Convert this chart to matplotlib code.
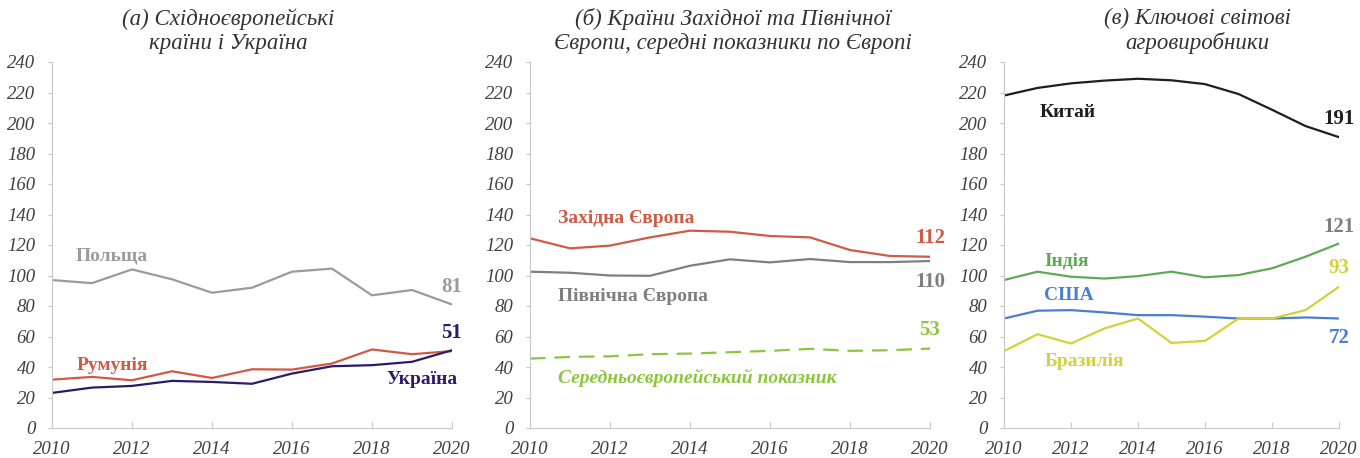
import matplotlib
matplotlib.use("Agg")
import matplotlib.pyplot as plt

plt.rcParams["font.family"] = ["Liberation Serif", "DejaVu Serif"]
plt.rcParams["font.style"] = "italic"

years = list(range(2010, 2021))
x_ticks = list(range(2010, 2021, 2))
y_ticks = list(range(0, 241, 20))

# (а) Східноєвропейські країни і Україна
poland = [97, 95, 104, 97.5, 88.7, 92, 102.5, 104.5, 87, 90.5, 81]
romania = [31.7, 33.5, 31.3, 37.2, 32.8, 38.5, 38.3, 42.3, 51.5, 48.4, 50.4]
ukraine = [23, 26.5, 27.6, 30.9, 30.2, 29, 35.7, 40.5, 41.2, 43.4, 51]

# (б) Західна / Північна Європа, середній по Європі
west_eu = [124.4, 117.8, 119.6, 125, 129.4, 128.7, 125.9, 125, 116.7, 112.8, 112.3]
north_eu = [102.5, 101.8, 100, 99.8, 106.4, 110.6, 108.6, 110.8, 108.8, 108.8, 109.5]
eu_avg = [45.5, 46.6, 47, 48.4, 48.8, 49.7, 50.6, 51.9, 50.6, 51, 52.1]

# (в) Ключові світові агровиробники
china = [218, 223, 226, 227.8, 229, 228, 225.5, 219, 208.7, 198, 190.7]
india = [97, 102.5, 99.2, 98, 99.6, 102.5, 98.8, 100.3, 104.7, 112.3, 121]
usa = [71.8, 76.9, 77.3, 75.8, 74, 74, 73, 71.8, 71.8, 72.5, 71.8]
brazil = [50.4, 61.5, 55.4, 65.3, 71.8, 55.8, 57.1, 71.8, 71.8, 77.3, 92.6]

C_GRAY = "#9b9b9b"
C_RED = "#cf5a45"
C_NAVY = "#2c1a6b"
C_DGRAY = "#7f7f7f"
C_LGREEN = "#8cc63e"
C_BLACK = "#1e1e1e"
C_GREEN = "#5eab57"
C_BLUE = "#4a7fcf"
C_YELLOW = "#d2d23a"

fig = plt.figure(figsize=(13.6, 4.58), dpi=100)

ax_a = fig.add_axes([52 / 1360, 1 - 428 / 458, 400 / 1360, 366 / 458])
ax_b = fig.add_axes([530 / 1360, 1 - 428 / 458, 400 / 1360, 366 / 458])
ax_c = fig.add_axes([1004 / 1360, 1 - 428 / 458, 335 / 1360, 366 / 458])

for ax in (ax_a, ax_b, ax_c):
    ax.set_xlim(2010, 2020)
    ax.set_ylim(0, 240)
    for s in ("top", "right"):
        ax.spines[s].set_visible(False)
    for s in ("left", "bottom"):
        ax.spines[s].set_color("#c8c8c8")
        ax.spines[s].set_linewidth(0.8)
    ax.tick_params(axis="y", direction="out", length=3, color="#c8c8c8",
                   labelsize=13.5, labelcolor="#404040", pad=9)
    ax.tick_params(axis="x", direction="in", length=4, color="#c8c8c8",
                   labelsize=13.5, labelcolor="#404040", pad=9)
    ax.set_xticks(x_ticks, [str(t) for t in x_ticks], fontstyle="italic")
    ax.set_yticks(y_ticks, [str(t) for t in y_ticks], fontstyle="italic")

lw = 1.6
bold = dict(fontweight="bold", fontsize=14, fontstyle="normal")
num = dict(fontweight="bold", fontsize=15, fontstyle="normal", ha="center", va="center")

# panel (а)
ax_a.plot(years, poland, color=C_GRAY, lw=lw)
ax_a.plot(years, romania, color=C_RED, lw=lw)
ax_a.plot(years, ukraine, color=C_NAVY, lw=lw)
ax_a.text(2011.5, 112.8, "Польща", color=C_GRAY, ha="center", va="center", **bold)
ax_a.text(2011.5, 41.3, "Румунія", color=C_RED, ha="center", va="center", **bold)
ax_a.text(2019.25, 31.5, "Україна", color=C_NAVY, ha="center", va="center", **bold)
ax_a.text(2020, 92.5, "81", color=C_GRAY, clip_on=False, **num)
ax_a.text(2020, 62.3, "51", color=C_NAVY, clip_on=False, **num)

# panel (б)
ax_b.plot(years, west_eu, color=C_RED, lw=lw)
ax_b.plot(years, north_eu, color=C_DGRAY, lw=lw)
ax_b.plot(years, eu_avg, color=C_LGREEN, lw=lw, dashes=(7, 4))
ax_b.text(2010.7, 137.7, "Західна Європа", color=C_RED, ha="left", va="center", **bold)
ax_b.text(2010.7, 86, "Північна Європа", color=C_DGRAY, ha="left", va="center", **bold)
ax_b.text(2010.7, 32.8, "Середньоєвропейський показник", color=C_LGREEN,
          ha="left", va="center", fontweight="bold", fontsize=14, fontstyle="italic")
ax_b.text(2020, 124.6, "112", color=C_RED, clip_on=False, **num)
ax_b.text(2020, 95.5, "110", color=C_DGRAY, clip_on=False, **num)
ax_b.text(2020, 64, "53", color=C_LGREEN, clip_on=False, **num)

# panel (в)
ax_c.plot(years, china, color=C_BLACK, lw=lw)
ax_c.plot(years, india, color=C_GREEN, lw=lw)
ax_c.plot(years, usa, color=C_BLUE, lw=lw)
ax_c.plot(years, brazil, color=C_YELLOW, lw=lw)
ax_c.text(2011.05, 207, "Китай", color=C_BLACK, ha="left", va="center", **bold)
ax_c.text(2011.2, 109.5, "Індія", color=C_GREEN, ha="left", va="center", **bold)
ax_c.text(2011.2, 86.6, "США", color=C_BLUE, ha="left", va="center", **bold)
ax_c.text(2011.2, 43.3, "Бразилія", color=C_YELLOW, ha="left", va="center", **bold)
ax_c.text(2020, 202.6, "191", color=C_BLACK, clip_on=False, **num)
ax_c.text(2020, 131.8, "121", color=C_DGRAY, clip_on=False, **num)
ax_c.text(2020, 104.9, "93", color=C_YELLOW, clip_on=False, **num)
ax_c.text(2020, 59, "72", color=C_BLUE, clip_on=False, **num)

# titles
title = dict(fontsize=16.5, fontstyle="italic", color="#333333", ha="center",
             va="center", linespacing=1.15)
fig.text(228 / 1360, 1 - 31 / 458, "(а) Східноєвропейські\nкраїни і Україна", **title)
fig.text(733 / 1360, 1 - 31 / 458,
         "(б) Країни Західної та Північної\nЄвропи, середні показники по Європі", **title)
fig.text(1197 / 1360, 1 - 31 / 458, "(в) Ключові світові\nагровиробники", **title)

fig.savefig("out.png", dpi=100)
